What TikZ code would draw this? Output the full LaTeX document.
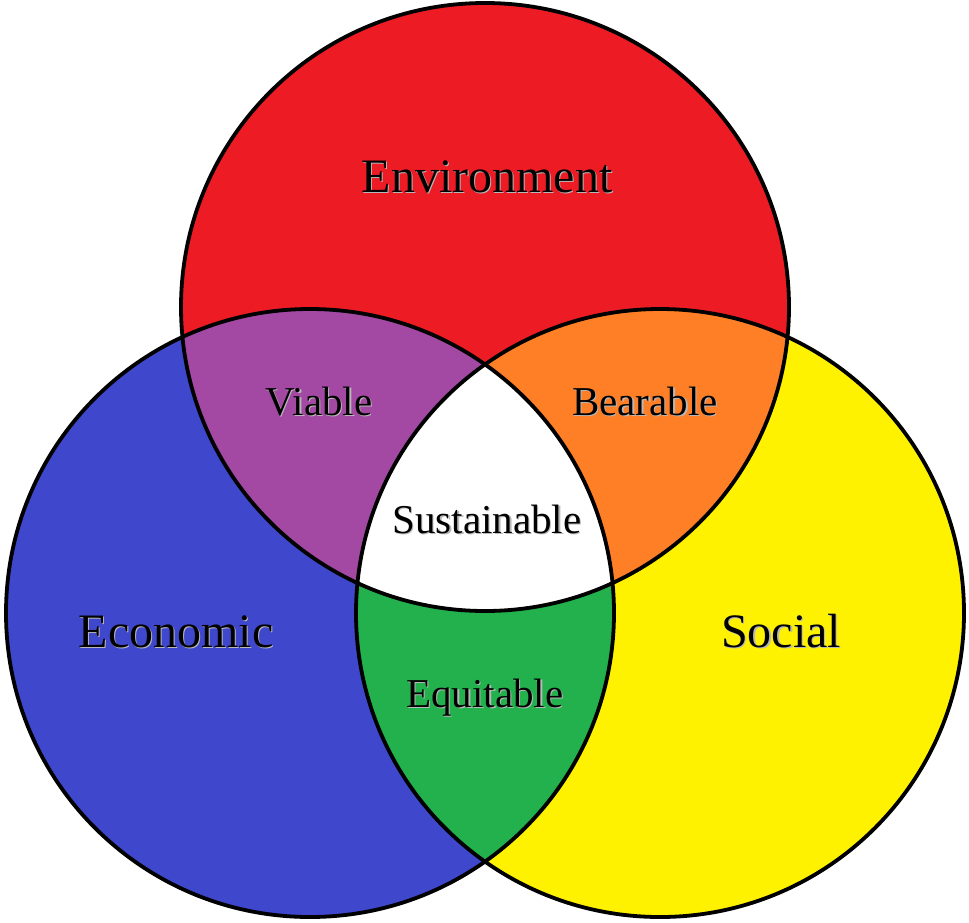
\documentclass[tikz,border=0pt]{standalone}
\usepackage{fontspec}
\setmainfont{Liberation Serif}
\usepackage{tikz}

\definecolor{envred}{RGB}{237,28,36}
\definecolor{ecoblue}{RGB}{63,72,204}
\definecolor{socyellow}{RGB}{255,242,0}
\definecolor{viablepurple}{RGB}{163,73,164}
\definecolor{bearorange}{RGB}{255,127,39}
\definecolor{equigreen}{RGB}{34,177,76}

\newcommand{\shadowed}[1]{\makebox[0pt][l]{\hspace{1.3pt}\raisebox{-1.3pt}{\color{black!28}#1}}#1}

\begin{document}
\begin{tikzpicture}[x=1pt,y=-1pt,line width=3.8pt,big label/.style={anchor=base,inner sep=0pt,font=\fontsize{48}{50}\selectfont},small label/.style={anchor=base,inner sep=0pt,font=\fontsize{41}{44}\selectfont}]
    \useasboundingbox (0,0) rectangle (969,922);
    \coordinate (env) at (485,307);
    \coordinate (eco) at (310,613);
    \coordinate (soc) at (660,613);
    % the three sets
    \fill[envred] (env) circle[radius=304pt];
    \fill[ecoblue] (eco) circle[radius=304pt];
    \fill[socyellow] (soc) circle[radius=304pt];
    % overlaps
    \begin{scope}
      \clip (env) circle[radius=304pt];
      \fill[viablepurple] (eco) circle[radius=304pt];
      \fill[bearorange] (soc) circle[radius=304pt];
    \end{scope}
    \begin{scope}
      \clip (eco) circle[radius=304pt];
      \fill[equigreen] (soc) circle[radius=304pt];
      \clip (soc) circle[radius=304pt];
      \fill[white] (env) circle[radius=304pt];
    \end{scope}
    \draw (env) circle[radius=304pt];
    \draw (eco) circle[radius=304pt];
    \draw (soc) circle[radius=304pt];
    \node[big label] (environment) at (487,192) {\shadowed{Environment}};
    \node[big label] (economic) at (176,647) {\shadowed{Economic}};
    \node[big label] (social) at (781,647) {\shadowed{Social}};
    \node[small label] (viable) at (319,415) {\shadowed{Viable}};
    \node[small label] (bearable) at (645,415) {\shadowed{Bearable}};
    \node[small label] (sustainable) at (487,533) {\shadowed{Sustainable}};
    \node[small label] (equitable) at (485,707) {\shadowed{Equitable}};
  \end{tikzpicture}
\end{document}
